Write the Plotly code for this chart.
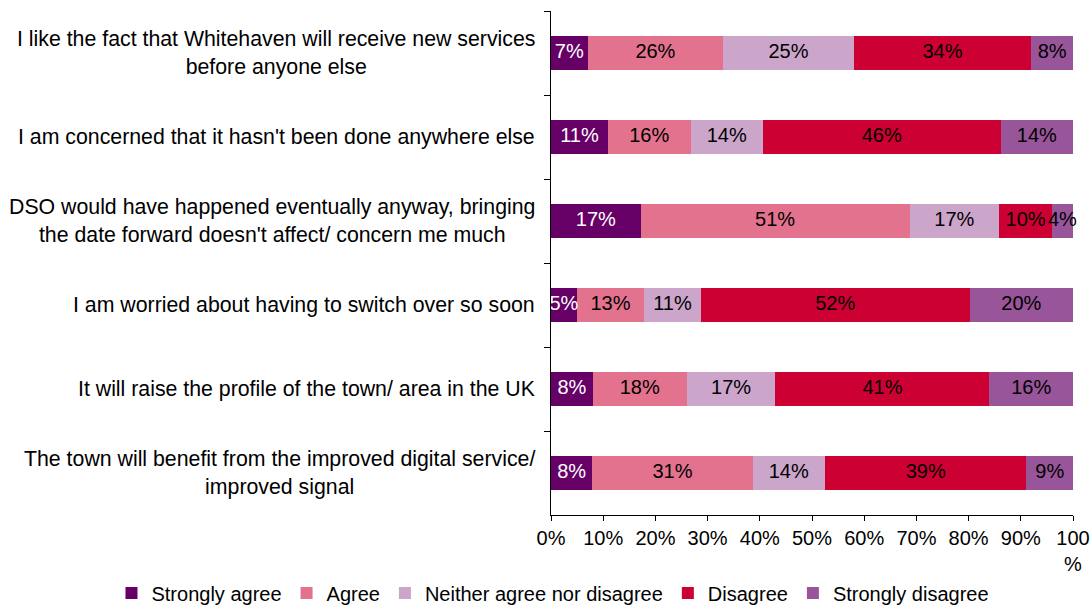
import plotly.graph_objects as go

statements = [
    "I like the fact that Whitehaven will receive new services<br>before anyone else",
    "I am concerned that it hasn't been done anywhere else",
    "DSO would have happened eventually anyway, bringing<br>the date forward doesn't affect/ concern me much",
    "I am worried about having to switch over so soon",
    "It will raise the profile of the town/ area in the UK",
    "The town will benefit from the improved digital service/<br>improved signal",
]

strongly_agree = [7, 11, 17, 5, 8, 8]
agree = [26, 16, 51, 13, 18, 31]
neither = [25, 14, 17, 11, 17, 14]
disagree = [34, 46, 10, 52, 41, 39]
strongly_disagree = [8, 14, 4, 20, 16, 9]

series_names = ["Strongly agree", "Agree", "Neither agree nor disagree",
                "Disagree", "Strongly disagree"]
series_values = [strongly_agree, agree, neither, disagree, strongly_disagree]
series_colors = ["#660066", "#E3728E", "#CBA5CA", "#CC0033", "#995599"]
label_colors = ["white", "black", "black", "black", "black"]

x_ticks = [0, 10, 20, 30, 40, 50, 60, 70, 80, 90, 100]
x_tick_text = ["0%", "10%", "20%", "30%", "40%", "50%", "60%", "70%",
               "80%", "90%", "100<br>%"]

FONT = "Liberation Sans, Arial, sans-serif"

fig = go.Figure()
for name, vals, col in zip(series_names, series_values, series_colors):
    fig.add_trace(go.Bar(
        y=statements,
        x=vals,
        name=name,
        orientation="h",
        marker=dict(color=col, line=dict(width=0)),
        hoverinfo="skip",
    ))

# value labels centred on each segment of the 100%-stacked bars
row_totals = [sum(col) for col in zip(*series_values)]
running = [0.0] * len(statements)
for vals, lc in zip(series_values, label_colors):
    mids = []
    for i, v in enumerate(vals):
        share = 100.0 * v / row_totals[i]
        mids.append(running[i] + share / 2)
        running[i] += share
    fig.add_trace(go.Scatter(
        x=mids,
        y=statements,
        mode="text",
        text=[f"{v}%" for v in vals],
        textposition="middle center",
        textfont=dict(color=lc, size=20, family=FONT),
        cliponaxis=False,
        showlegend=False,
        hoverinfo="skip",
    ))

# statement labels, centred line by line, to the left of the axis
for s in statements:
    fig.add_annotation(
        x=0, xref="paper", xanchor="right", xshift=-14,
        y=s, yref="y",
        text=s, showarrow=False, align="center",
        font=dict(size=21.3, color="#000000", family=FONT),
    )

fig.update_layout(
    barmode="stack",
    barnorm="percent",
    bargap=0.59,
    width=1091, height=606,
    margin=dict(l=551, r=18, t=11, b=91, autoexpand=False),
    paper_bgcolor="white",
    plot_bgcolor="white",
    font=dict(family=FONT, size=20, color="#000000"),
    showlegend=True,
    legend=dict(
        orientation="h",
        xref="paper", x=-0.842, xanchor="left",
        yref="paper", y=-0.116, yanchor="top",
        font=dict(size=20, family=FONT),
        itemwidth=30,
        traceorder="normal",
        tracegroupgap=0,
    ),
    xaxis=dict(
        range=[0, 100],
        tickvals=x_ticks,
        ticktext=x_tick_text,
        showgrid=False,
        zeroline=False,
        showline=True,
        linecolor="#000000",
        linewidth=1,
        ticks="outside",
        ticklen=5,
        tickcolor="#000000",
        tickfont=dict(size=20, family=FONT),
        fixedrange=True,
    ),
    yaxis=dict(
        categoryorder="array",
        categoryarray=statements,
        autorange="reversed",
        showticklabels=False,
        showgrid=False,
        zeroline=False,
        showline=True,
        linecolor="#000000",
        linewidth=1,
        ticks="outside",
        tickson="boundaries",
        ticklen=6,
        tickcolor="#000000",
        fixedrange=True,
    ),
)

fig.write_html("out.html")
